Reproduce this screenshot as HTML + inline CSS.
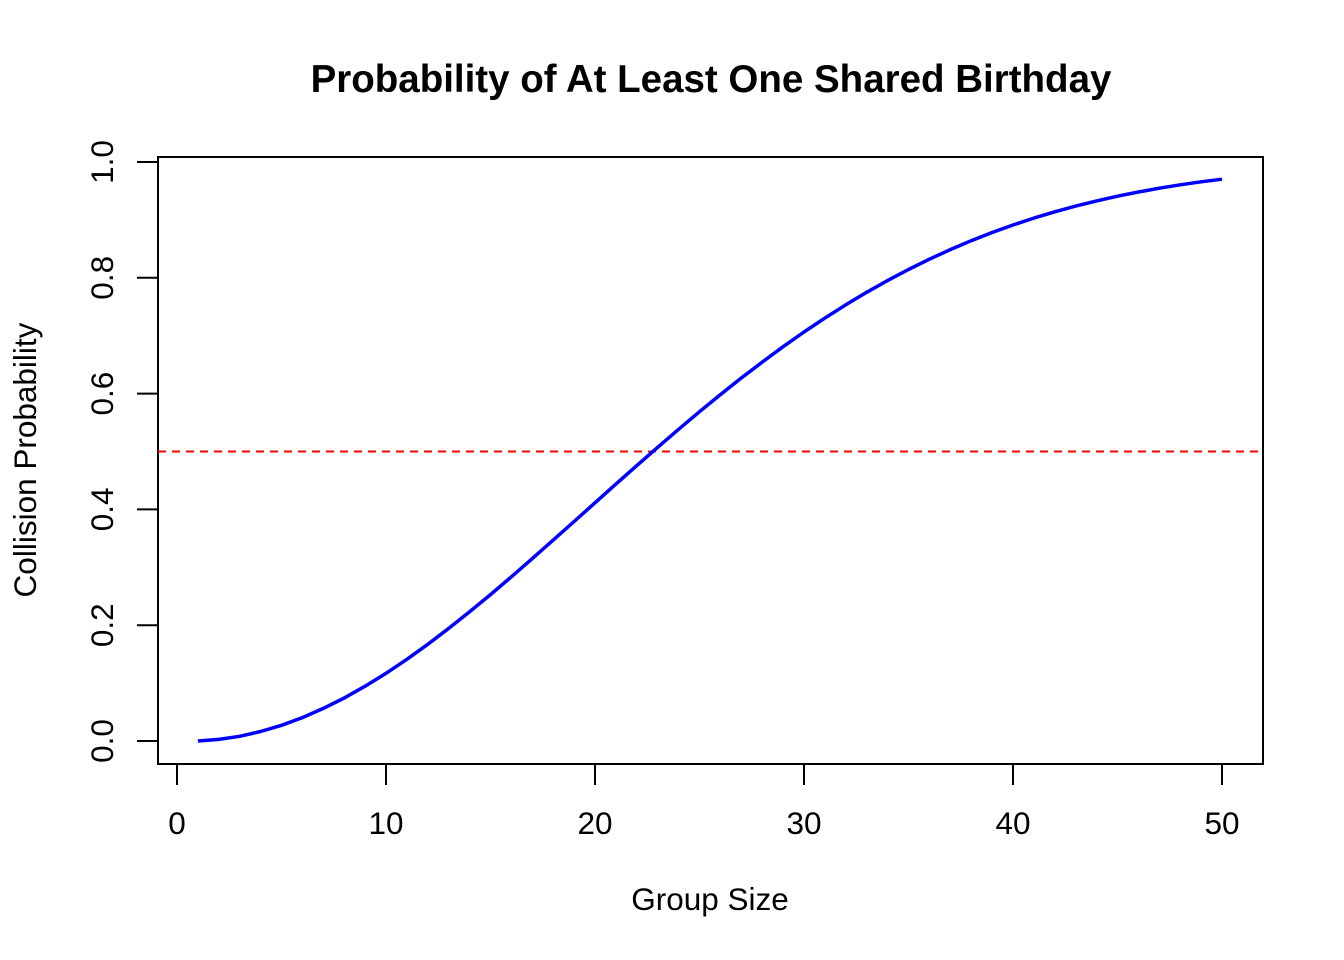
<!DOCTYPE html>
<html><head><meta charset="utf-8"><style>
html,body{margin:0;padding:0;background:#fff;}
svg{display:block;font-family:"Liberation Sans",Arial,sans-serif;}
</style></head><body>
<svg id="chart" width="1344" height="960" viewBox="0 0 1344 960">
<text x="711" y="92" text-anchor="middle" font-size="38.5" font-weight="bold">Probability of At Least One Shared Birthday</text>
<rect x="158" y="157" width="1105" height="607" fill="none" stroke="#000" stroke-width="2"/>
<g id="xaxis"></g>
<g id="yaxis"></g>
<text x="710" y="910" text-anchor="middle" font-size="31.5">Group Size</text>
<text transform="translate(36,460) rotate(-90)" text-anchor="middle" font-size="31.5">Collision Probability</text>
<g id="series"></g>
</svg>
<script>
const groupSizes = [1,2,3,4,5,6,7,8,9,10,11,12,13,14,15,16,17,18,19,20,21,22,23,24,25,26,27,28,29,30,31,32,33,34,35,36,37,38,39,40,41,42,43,44,45,46,47,48,49,50];
const probabilities = [0,0.00274,0.0082,0.01636,0.02714,0.04046,0.05624,0.07434,0.09462,0.11695,0.14114,0.16702,0.19441,0.2231,0.2529,0.2836,0.31501,0.34691,0.37912,0.41144,0.44369,0.4757,0.5073,0.53834,0.5687,0.59824,0.62686,0.65446,0.68097,0.70632,0.73045,0.75335,0.77497,0.79532,0.81438,0.83218,0.84873,0.86407,0.87822,0.89123,0.90315,0.91403,0.92392,0.93289,0.94098,0.94825,0.95477,0.9606,0.96578,0.97037];
const xTicks = [0,10,20,30,40,50];
const yTicks = [0,0.2,0.4,0.6,0.8,1.0];
const yTickLabels = ["0.0","0.2","0.4","0.6","0.8","1.0"];
const threshold = [0.5];

const NS = "http://www.w3.org/2000/svg";
function X(v){ return 177 + (v-0)*(1222-177)/50; }
function Y(v){ return 741 - v*(741-162); }
function mk(tag, attrs, parent){ const e=document.createElementNS(NS,tag); for(const k in attrs) e.setAttribute(k,attrs[k]); parent.appendChild(e); return e; }

const xa=document.getElementById('xaxis');
mk('line',{x1:X(xTicks[0]),x2:X(xTicks[xTicks.length-1]),y1:764,y2:764,stroke:'#000','stroke-width':2},xa);
xTicks.forEach(t=>{
  const l=mk('line',{x1:X(t),x2:X(t),y1:764,y2:785,stroke:'#000','stroke-width':2},xa);
  
  
  const tx=mk('text',{x:X(t),y:834,'text-anchor':'middle','font-size':31.5},xa);
  tx.textContent=t;
  
  
});
const ya=document.getElementById('yaxis');
mk('line',{x1:158,x2:158,y1:Y(yTicks[0]),y2:Y(yTicks[yTicks.length-1]),stroke:'#000','stroke-width':2},ya);
yTicks.forEach((t,i)=>{
  const l=mk('line',{x1:137,x2:158,y1:Y(t),y2:Y(t),stroke:'#000','stroke-width':2},ya);
  
  
  const tx=mk('text',{transform:`translate(113,${Y(t)}) rotate(-90)`,'text-anchor':'middle','font-size':31.5},ya);
  tx.textContent=yTickLabels[i];
  
  
});
const s=document.getElementById('series');
const ref=mk('line',{x1:158,x2:1263,y1:Y(threshold[0]),y2:Y(threshold[0]),stroke:'#ff0000','stroke-width':2,'stroke-dasharray':'8,6'},s);


const pts=groupSizes.map((g,i)=>X(g).toFixed(1)+','+Y(probabilities[i]).toFixed(1)).join(' ');
const pl=mk('polyline',{points:pts,fill:'none',stroke:'#0000ff','stroke-width':3.5,'stroke-linejoin':'round'},s);


</script>
</body></html>
